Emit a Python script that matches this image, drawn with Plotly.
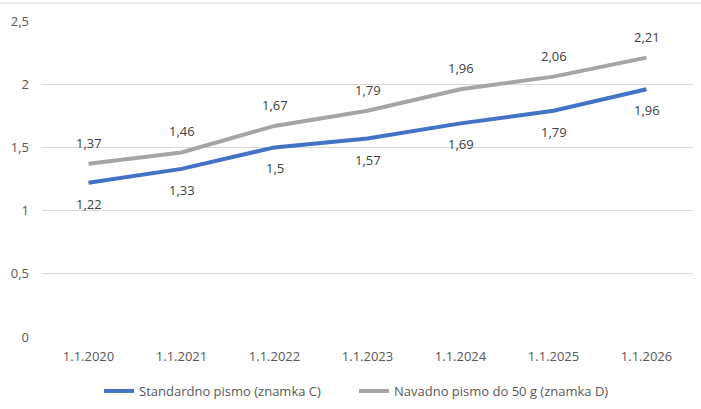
import plotly.graph_objects as go

categories = ["1.1.2020", "1.1.2021", "1.1.2022", "1.1.2023", "1.1.2024", "1.1.2025", "1.1.2026"]
standardno = [1.22, 1.33, 1.5, 1.57, 1.69, 1.79, 1.96]
navadno = [1.37, 1.46, 1.67, 1.79, 1.96, 2.06, 2.21]
name_c = "Standardno pismo (znamka C)"
name_d = "Navadno pismo do 50 g (znamka D)"
y_ticks = [0, 0.5, 1, 1.5, 2, 2.5]

BLUE = "#4472C4"
GRAY = "#A5A5A5"
TXT = "#595959"
FONT = "Open Sans"

fig = go.Figure()
fig.add_trace(go.Scatter(x=categories, y=standardno, mode="lines", name=name_c,
                         line=dict(color=BLUE, width=4)))
fig.add_trace(go.Scatter(x=categories, y=navadno, mode="lines", name=name_d,
                         line=dict(color=GRAY, width=4)))

ann = []
for c, v in zip(categories, standardno):
    ann.append(dict(x=c, y=v, text=f"{v:g}".replace(".", ","), showarrow=False,
                    yshift=-21, font=dict(family=FONT, size=13, color="#404040")))
for c, v in zip(categories, navadno):
    ann.append(dict(x=c, y=v, text=f"{v:g}".replace(".", ","), showarrow=False,
                    yshift=21, font=dict(family=FONT, size=13, color="#404040")))

W, H = 701, 409
ml, mr, mt, mb = 42, 8, 21, 72
pw = W - ml - mr
ph = H - mt - mb

fig.update_layout(
    width=W, height=H,
    margin=dict(l=ml, r=mr, t=mt, b=mb, pad=0, autoexpand=False),
    paper_bgcolor="white", plot_bgcolor="white",
    separators=",.",
    font=dict(family=FONT, size=13, color=TXT),
    annotations=ann,
    showlegend=True,
    legend=dict(orientation="h", x=(101 - ml - 2) / pw, xanchor="left", y=-(376 - 337) / ph, yanchor="top",
                font=dict(family=FONT, size=13, color=TXT), itemwidth=30,
                entrywidth=210, entrywidthmode="pixels",
                bgcolor="rgba(0,0,0,0)"),
    xaxis=dict(type="category", showgrid=False, showline=False, zeroline=False,
               ticks="", tickfont=dict(family=FONT, size=13, color=TXT),
               range=[-0.5, len(categories) - 0.5], ticklabelstandoff=10),
    yaxis=dict(range=[0, 2.5], tickvals=y_ticks, showgrid=True, gridcolor="#D9D9D9",
               gridwidth=1, zeroline=False, showline=False, ticks="",
               tickfont=dict(family=FONT, size=13, color=TXT), ticklabelstandoff=12),
    shapes=[dict(type="line", xref="paper", yref="paper",
                 x0=-ml / pw, x1=(W - ml) / pw, y0=1 + (mt - 3) / ph, y1=1 + (mt - 3) / ph,
                 line=dict(color="#D9D9D9", width=1))],
)

fig.write_html("out.html", config={"displayModeBar": False},
               post_script="document.body.style.margin='0px';")
